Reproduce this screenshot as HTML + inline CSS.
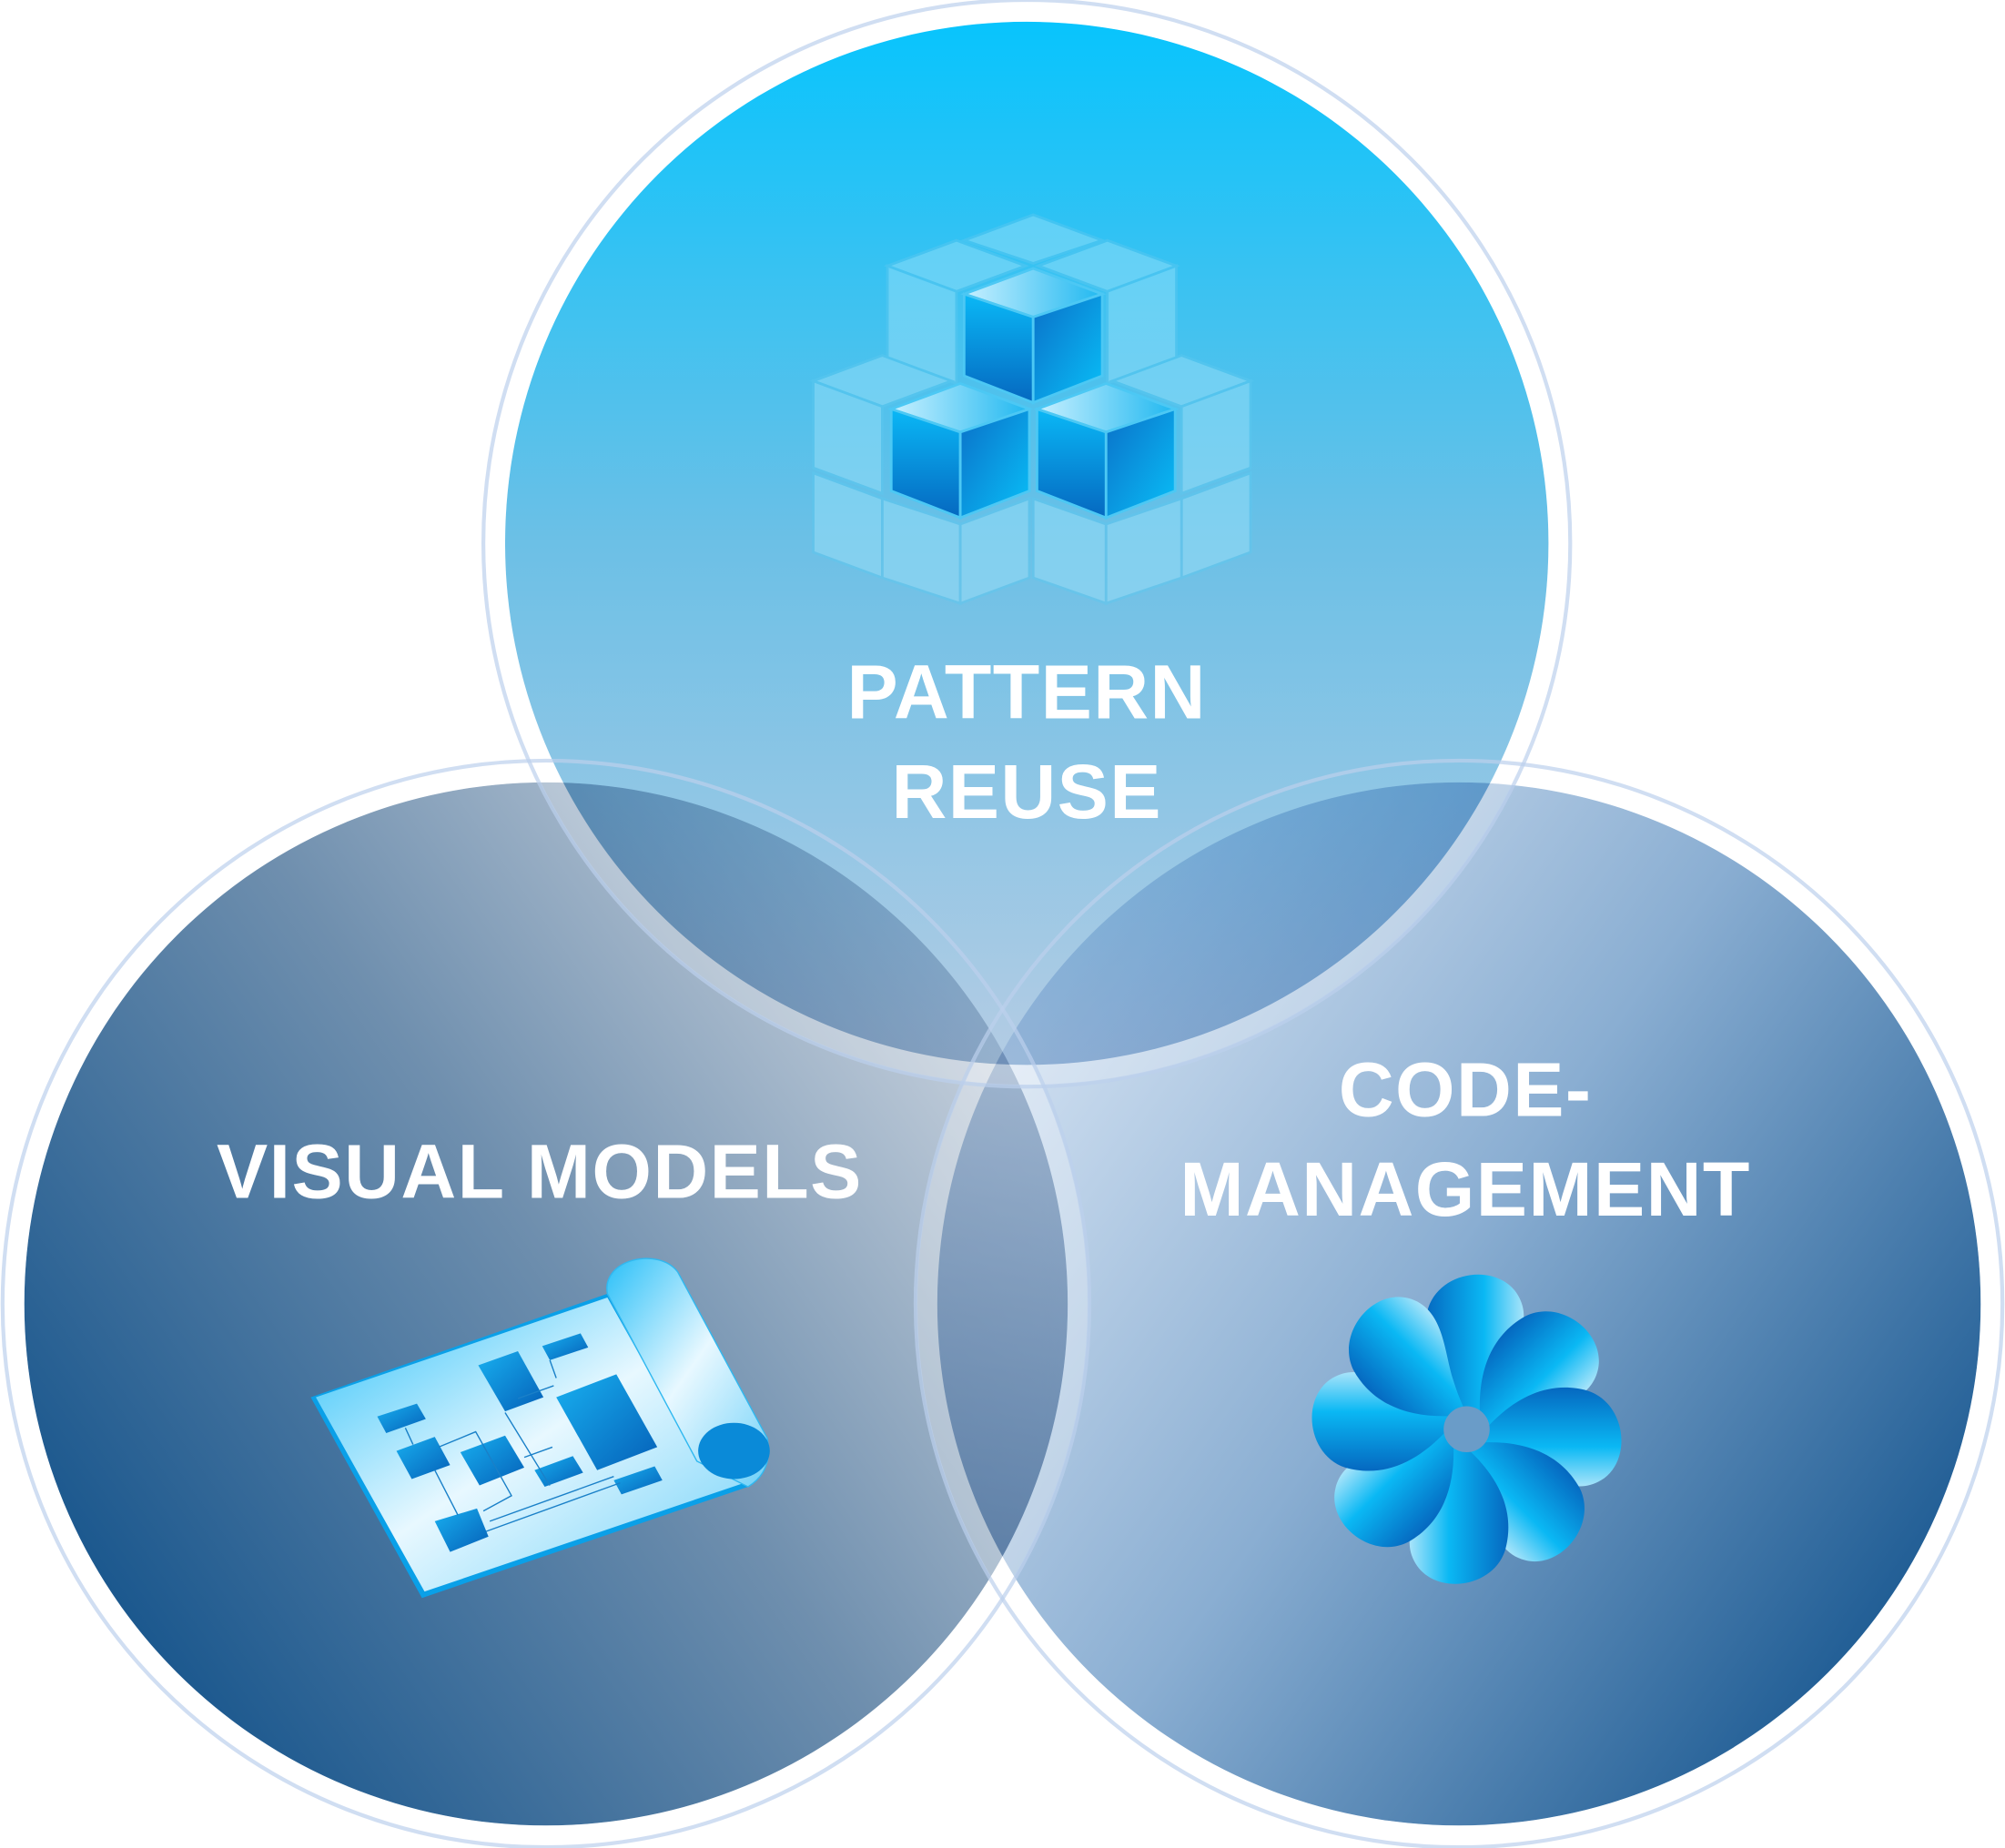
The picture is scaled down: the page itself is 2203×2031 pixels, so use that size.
<!DOCTYPE html>
<html><head><meta charset="utf-8"><style>
html,body{margin:0;padding:0;background:#fff;}
svg{display:block;}
text{font-family:"Liberation Sans",sans-serif;font-weight:bold;fill:#fff;text-anchor:middle;letter-spacing:1px;}
</style></head><body>
<svg width="2203" height="2031" viewBox="0 0 1568 1445.6" xmlns="http://www.w3.org/2000/svg">
<defs>
<linearGradient id="gTop" x1="0" y1="0" x2="0" y2="1">
<stop offset="0" stop-color="#08c4fd"/><stop offset="0.5" stop-color="#6cc0e6"/><stop offset="1" stop-color="#b4cce4"/></linearGradient>
<linearGradient id="gL" x1="1" y1="0.2" x2="0" y2="0.9">
<stop offset="0" stop-color="#d4dbe4"/><stop offset="0.45" stop-color="#6f8fae"/><stop offset="1" stop-color="#064a86"/></linearGradient>
<linearGradient id="gR" x1="0" y1="0.2" x2="1" y2="0.9">
<stop offset="0" stop-color="#dce8f6"/><stop offset="0.45" stop-color="#8aaed2"/><stop offset="1" stop-color="#074a86"/></linearGradient>
<linearGradient id="cubeL" x1="0" y1="0" x2="0" y2="1"><stop offset="0" stop-color="#0ab8f6"/><stop offset="1" stop-color="#0568c0"/></linearGradient>
<linearGradient id="cubeR" x1="0" y1="0" x2="1" y2="1"><stop offset="0" stop-color="#0a70c8"/><stop offset="1" stop-color="#09c0f8"/></linearGradient>
<linearGradient id="cubeT" x1="0" y1="0" x2="1" y2="0"><stop offset="0" stop-color="#c8f0ff"/><stop offset="1" stop-color="#20b8f0"/></linearGradient>
<linearGradient id="paper" x1="0" y1="0" x2="1" y2="1"><stop offset="0" stop-color="#2ac0f8"/><stop offset="0.5" stop-color="#e8f8ff"/><stop offset="1" stop-color="#6cd0f8"/></linearGradient>
<linearGradient id="petal" x1="0" y1="0" x2="1" y2="0"><stop offset="0" stop-color="#0568c0"/><stop offset="0.6" stop-color="#0ab8f4"/><stop offset="1" stop-color="#a8e4fa"/></linearGradient>
<linearGradient id="box" x1="0" y1="0" x2="1" y2="1"><stop offset="0" stop-color="#18b0f0"/><stop offset="1" stop-color="#0560b8"/></linearGradient>
</defs>

<circle cx="427" cy="1020" r="408" fill="url(#gL)"/>
<circle cx="1141" cy="1020" r="408" fill="url(#gR)" style="mix-blend-mode:multiply"/>
<circle cx="427" cy="1020" r="416" fill="none" stroke="#fff" stroke-width="16" opacity="0.3"/>
<circle cx="1141" cy="1020" r="416" fill="none" stroke="#fff" stroke-width="16" opacity="0.3"/>
<circle cx="803" cy="425" r="408" fill="url(#gTop)" style="mix-blend-mode:multiply"/>
<circle cx="803" cy="425" r="416" fill="none" stroke="#fff" stroke-width="16" opacity="0.25"/>
<circle cx="803" cy="425" r="425" fill="none" stroke="#bcd0ec" stroke-width="3" opacity="0.7"/>
<circle cx="427" cy="1020" r="425" fill="none" stroke="#bcd0ec" stroke-width="3" opacity="0.7"/>
<circle cx="1141" cy="1020" r="425" fill="none" stroke="#bcd0ec" stroke-width="3" opacity="0.7"/>

<g fill="#9fe4fb" opacity="0.45" stroke="#5cc8f0" stroke-width="2">
<polygon points="748,188 802,208 748,228 694,208"/>
<polygon points="866,188 920,208 866,228 812,208"/>
<polygon points="808,168 862,188 808,206 754,188"/>
<polygon points="694,208 748,228 748,300 694,280"/>
<polygon points="866,228 920,208 920,280 866,300"/>
<polygon points="690,278 744,298 690,318 636,298"/>
<polygon points="924,278 978,298 924,318 870,298"/>
<polygon points="636,298 690,318 690,386 636,366"/>
<polygon points="636,370 690,390 690,452 636,432"/>
<polygon points="924,318 978,298 978,366 924,386"/>
<polygon points="924,390 978,370 978,432 924,452"/>
<polygon points="690,390 751,410 751,472 690,452"/>
<polygon points="751,410 805,390 805,452 751,472"/>
<polygon points="808,390 865,410 865,472 808,452"/>
<polygon points="865,410 924,390 924,452 865,472"/>
</g>
<g stroke="#4cc8f4" stroke-width="2">
<polygon points="808,210 862,230 808,248 754,230" fill="url(#cubeT)"/>
<polygon points="754,230 808,248 808,315 754,294" fill="url(#cubeL)"/>
<polygon points="808,248 862,230 862,294 808,315" fill="url(#cubeR)"/>
<polygon points="751,300 805,320 751,338 697,320" fill="url(#cubeT)"/>
<polygon points="697,320 751,338 751,405 697,384" fill="url(#cubeL)"/>
<polygon points="751,338 805,320 805,384 751,405" fill="url(#cubeR)"/>
<polygon points="865,300 919,320 865,338 811,320" fill="url(#cubeT)"/>
<polygon points="811,320 865,338 865,405 811,384" fill="url(#cubeL)"/>
<polygon points="865,338 919,320 919,384 865,405" fill="url(#cubeR)"/>
</g>

<text x="803" y="562" font-size="60">PATTERN</text>
<text x="803" y="640" font-size="60">REUSE</text>
<text x="422" y="937" font-size="60">VISUAL MODELS</text>
<text x="1146" y="873" font-size="60">CODE-</text>
<text x="1146" y="951" font-size="60">MANAGEMENT</text>

<polygon points="243,1093 475,1012 548,1145 585,1163 330,1250" fill="#0aa0e8"/>
<polygon points="247,1093 475,1015 545,1140 582,1160 332,1245" fill="url(#paper)"/>
<path d="M475,1012 C470,985 515,975 530,995 L600,1125 C605,1150 590,1160 585,1163 L545,1143 Z" fill="url(#paper)" stroke="#30b8f0" stroke-width="1"/>
<ellipse cx="574" cy="1135" rx="28" ry="22" fill="#0a8ad8"/>
<g fill="url(#box)">
<polygon points="295,1108 326,1098 333,1110 302,1121"/>
<polygon points="310,1135 340,1124 352,1146 322,1157"/>
<polygon points="360,1136 395,1123 410,1148 375,1162"/>
<polygon points="374,1068 405,1057 425,1093 395,1104"/>
<polygon points="424,1053 454,1043 460,1054 430,1064"/>
<polygon points="435,1093 482,1075 514,1132 467,1150"/>
<polygon points="418,1150 448,1139 456,1152 426,1163"/>
<polygon points="340,1190 373,1180 382,1202 352,1214"/>
<polygon points="480,1158 512,1147 518,1158 486,1169"/>
</g>
<g stroke="#1a80c8" stroke-width="1" fill="none">
<path d="M317,1117 L323,1130 M340,1150 L358,1185 M343,1132 L372,1120 L400,1170 L378,1182 M395,1105 L430,1162 M405,1094 L433,1084 M430,1064 L435,1078 M380,1198 L485,1160 M383,1190 L480,1155 M410,1140 L432,1132"/>
</g>

<g transform="translate(1147,1118)">
<g id="pt">
<path d="M8,-8 C-20,-30 -40,-60 -30,-95 C-20,-125 25,-130 40,-105 C55,-80 30,-55 20,-35 C12,-20 10,-12 8,-8 Z" fill="url(#petal)"/>
</g>
<use href="#pt" transform="rotate(45)"/>
<use href="#pt" transform="rotate(90)"/>
<use href="#pt" transform="rotate(135)"/>
<use href="#pt" transform="rotate(180)"/>
<use href="#pt" transform="rotate(225)"/>
<use href="#pt" transform="rotate(270)"/>
<use href="#pt" transform="rotate(315)"/>
<circle r="18" fill="#6a9cc8"/>
</g>
</svg>
</body></html>
